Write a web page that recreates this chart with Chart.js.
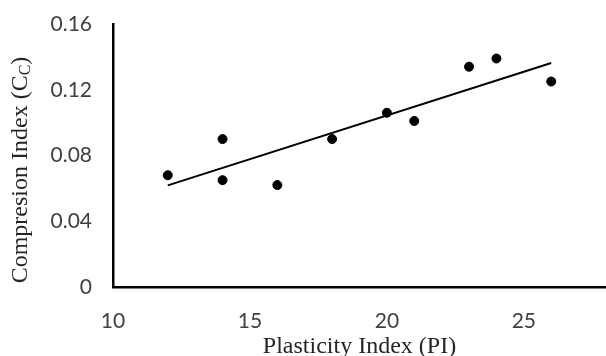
<!DOCTYPE html>
<html>
<head>
<meta charset="utf-8">
<script src="https://cdn.jsdelivr.net/npm/chart.js@4"></script>
<style>
    body { margin: 0; background: #fff; }
    #wrap { width: 606px; height: 356px; position: relative; }
</style>
</head>
<body>
<div id="wrap"><canvas id="cc-chart"></canvas></div>
<script>
/* compression index vs plasticity index scatter */

const plasticityIndex = [12, 14, 14, 16, 18, 20, 21, 23, 24, 26];
const compressionIndex = [0.068, 0.090, 0.065, 0.062, 0.090, 0.106, 0.101, 0.134, 0.139, 0.125];
const xTicks = [10, 15, 20, 25];
const yTicks = [0, 0.04, 0.08, 0.12, 0.16];

// least squares trend line through the points
let n = plasticityIndex.length;
let mx = plasticityIndex.reduce((a, b) => a + b, 0) / n;
let my = compressionIndex.reduce((a, b) => a + b, 0) / n;
let sxy = 0, sxx = 0;
for (let i = 0; i < n; i++) {
    sxy += (plasticityIndex[i] - mx) * (compressionIndex[i] - my);
    sxx += (plasticityIndex[i] - mx) * (plasticityIndex[i] - mx);
}
let slope = sxy / sxx;
let x0 = Math.min(...plasticityIndex), x1 = Math.max(...plasticityIndex);
let trendData = [
    { x: x0, y: my + slope * (x0 - mx) },
    { x: x1, y: my + slope * (x1 - mx) }
];

let pointData = plasticityIndex.map((x, i) => ({ x: x, y: compressionIndex[i] }));

// y title with subscript C
const yTitlePlugin = {
    id: 'yTitle',
    afterDraw(chart) {
        const ctx = chart.ctx;
        const main = 'Compresion Index (C';
        ctx.save();
        ctx.translate(21, 170);
        ctx.rotate(-Math.PI / 2);
        ctx.fillStyle = '#262626';
        ctx.textBaseline = 'middle';
        ctx.font = '24px "Liberation Serif"';
        let w1 = ctx.measureText(main).width;
        let w3 = ctx.measureText(')').width;
        ctx.font = '16px "Liberation Serif"';
        let w2 = ctx.measureText('C').width;
        let start = -(w1 + w2 + w3) / 2;
        ctx.font = '24px "Liberation Serif"';
        ctx.textAlign = 'left';
        ctx.fillText(main, start, 0);
        ctx.font = '16px "Liberation Serif"';
        ctx.fillText('C', start + w1, 5);
        ctx.font = '24px "Liberation Serif"';
        ctx.fillText(')', start + w1 + w2, 0);
        ctx.restore();
    }
};

let ccCanvas = document.getElementById("cc-chart");

let ccChart = new Chart(ccCanvas, {
    type: 'scatter',
    data: {
        datasets: [{
            data: pointData,
            backgroundColor: '#000',
            borderColor: '#000',
            pointRadius: 4.5,
            pointHoverRadius: 4.5
        }, {
            type: 'line',
            data: trendData,
            borderColor: '#000',
            borderWidth: 2,
            pointRadius: 0,
            fill: false
        }]
    },
    options: {
        responsive: true,
        maintainAspectRatio: false,
        animation: false,
        layout: {
            autoPadding: false,
            padding: { top: 24, right: 0, left: 0, bottom: 0 }
        },
        scales: {
            x: {
                type: 'linear',
                min: 10,
                max: 28,
                afterBuildTicks: axis => { axis.ticks = xTicks.map(v => ({ value: v })); },
                afterFit: scale => { scale.height = 69; },
                grid: { display: false, drawTicks: false },
                border: { display: true, color: '#000', width: 2.5 },
                ticks: {
                    padding: 22,
                    color: '#404040',
                    font: { family: 'Lato', size: 21 },
                    maxRotation: 0
                },
                title: {
                    display: true,
                    text: 'Plasticity Index (PI)',
                    color: '#262626',
                    font: { family: '"Liberation Serif"', size: 24, lineHeight: 1 },
                    padding: { top: 0, bottom: -3 }
                }
            },
            y: {
                min: 0,
                max: 0.16,
                afterBuildTicks: axis => { axis.ticks = yTicks.map(v => ({ value: v })); },
                afterFit: scale => {
                    scale.width = 113;
                    scale.paddingTop = 12;
                    scale.paddingBottom = 0;
                },
                grid: { display: false, drawTicks: false },
                border: { display: true, color: '#000', width: 2.5 },
                ticks: {
                    padding: 21,
                    color: '#404040',
                    font: { family: 'Lato', size: 21 },
                    callback: v => v === 0 ? '0' : v.toFixed(2)
                }
            }
        },
        plugins: {
            legend: { display: false },
            tooltip: { enabled: false }
        }
    },
    plugins: [yTitlePlugin]
});
</script>
</body>
</html>
